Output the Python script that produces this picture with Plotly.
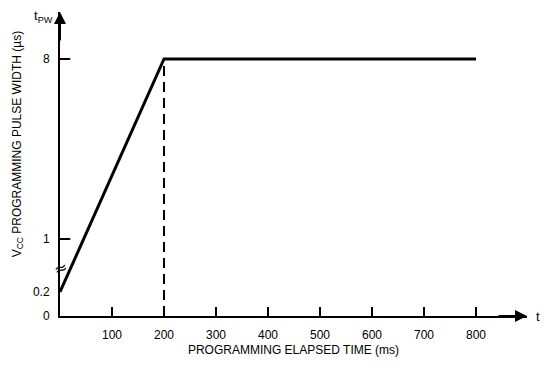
#!/usr/bin/env python3

import numpy as np
import plotly.graph_objects as go

# programming pulse width vs elapsed time
time_ms = [0, 200, 800]
pulse_us = [0.2, 8, 8]

x_ticks = [100, 200, 300, 400, 500, 600, 700, 800]
y_ticks = [0, 0.2, 1, 8]
y_ticktext = ["0", "0.2", "1", "8"]

# broken y scale: each tick value gets its own spot on the axis
y_scale = [0, 24, 77, 257]


def ymap(v):
    return np.interp(v, y_ticks, y_scale)


fig = go.Figure()

fig.add_trace(go.Scatter(x=time_ms, y=ymap(pulse_us), mode="lines",
                         line=dict(color="black", width=3)))

# dashed drop line at the knee
fig.add_trace(go.Scatter(x=[time_ms[1], time_ms[1]], y=ymap([0, pulse_us[1]]),
                         mode="lines",
                         line=dict(color="black", width=2, dash="10px,6px")))


def fnt(size=12):
    return dict(family="Liberation Sans, Arial", size=size, color="black")


# page body has an 8px margin, so the figure is sized to fit inside it
fig.update_layout(
    width=541, height=360,
    margin=dict(l=52, r=22, t=4, b=52, autoexpand=False),
    plot_bgcolor="white", paper_bgcolor="white",
    showlegend=False,
    font=fnt(),
)

fig.update_xaxes(range=[0, 898], showline=True, linecolor="black", linewidth=2,
                 tickvals=x_ticks, ticks="inside", ticklen=9, tickwidth=2,
                 tickcolor="black", showgrid=False, zeroline=False,
                 automargin=False, tickfont=fnt(12), ticklabelstandoff=7,
                 title=dict(text="PROGRAMMING ELAPSED TIME (ms)", standoff=4,
                            font=fnt(12)))

fig.update_yaxes(range=[0, 304], showline=True, linecolor="black", linewidth=2,
                 tickvals=ymap(y_ticks), ticktext=y_ticktext, ticks="",
                 ticklabelstandoff=6, automargin=False, tickfont=fnt(12),
                 showgrid=False, zeroline=False)

# tick marks on the y axis (only 1 and 8)
for v in [1, 8]:
    fig.add_shape(type="line", xref="paper", yref="y", x0=0, x1=0.022,
                  y0=ymap(v), y1=ymap(v), line=dict(color="black", width=2))

# axis arrows
fig.add_annotation(xref="paper", yref="paper", x=0, y=1, ax=0, ay=30,
                   showarrow=True, arrowhead=2, arrowsize=1.2, arrowwidth=2,
                   arrowcolor="black", text="")
fig.add_annotation(xref="paper", yref="paper", x=1, y=0, ax=-30, ay=0,
                   showarrow=True, arrowhead=2, arrowsize=1.2, arrowwidth=2,
                   arrowcolor="black", text="")

# axis break mark
fig.add_annotation(xref="paper", yref="y", x=0, y=ymap(0.55), text="≈",
                   textangle=-20, showarrow=False,
                   font=dict(family="DejaVu Sans", size=16, color="black"),
                   xanchor="center", yanchor="middle")

fig.add_annotation(xref="paper", yref="paper", x=-0.036, y=0.985,
                   text="t<sub>PW</sub>", showarrow=False, font=fnt(13),
                   xanchor="center", yanchor="middle")
fig.add_annotation(xref="paper", yref="paper", x=1.023, y=0,
                   text="t", showarrow=False, font=fnt(13),
                   xanchor="center", yanchor="middle")
fig.add_annotation(xref="paper", yref="paper", x=-0.09, y=0.565,
                   text="V<sub>CC</sub> PROGRAMMING PULSE WIDTH (µs)",
                   textangle=-90, showarrow=False, font=fnt(12),
                   xanchor="center", yanchor="middle")

fig.write_html("out.html")
